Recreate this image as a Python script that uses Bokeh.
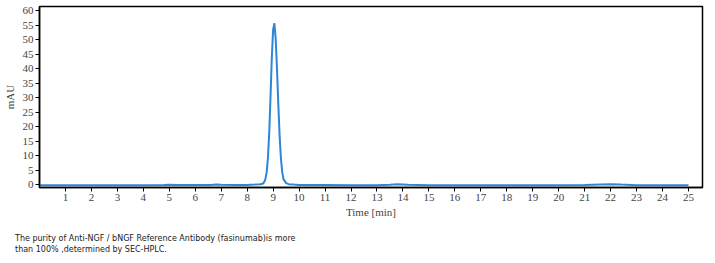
from bokeh.plotting import figure
from bokeh.layouts import column
from bokeh.models import Div, FixedTicker, Range1d
from bokeh.embed import file_html
from bokeh.resources import INLINE

# Chromatogram data
time_min = [0.0, 1.0, 2.0, 3.0, 4.0, 4.8, 5.0, 5.3, 6.0, 6.6, 6.8, 7.0, 7.5, 8.0, 8.3, 8.5,
            8.6, 8.65, 8.7, 8.75, 8.8, 8.85, 8.9, 8.95, 9.0, 9.05, 9.1, 9.15, 9.2, 9.25,
            9.3, 9.35, 9.4, 9.5, 9.6, 9.8, 10.0, 11.0, 12.0, 13.0, 13.5, 13.8, 14.2, 15.0,
            16.0, 17.0, 18.0, 19.0, 20.0, 21.0, 21.6, 22.0, 22.4, 23.0, 24.0, 25.0]
signal_mau = [-0.2, -0.2, -0.2, -0.2, -0.2, -0.15, -0.05, -0.1, -0.15, -0.1, 0.05, -0.05, -0.1, -0.1, 0.0, 0.1,
              0.3, 0.8, 1.8, 4.2, 9.2, 18.0, 30.5, 44.0, 53.5, 55.6, 50.0, 39.5, 27.5, 16.8,
              9.0, 4.3, 1.9, 0.5, 0.15, 0.0, -0.1, -0.15, -0.2, -0.2, -0.05, 0.1, -0.05, -0.2,
              -0.2, -0.2, -0.2, -0.2, -0.2, -0.15, 0.05, 0.15, 0.0, -0.2, -0.2, -0.2]

x_ticks = list(range(1, 26))
y_ticks = list(range(0, 61, 5))

p = figure(width=715, height=228, output_backend="svg", toolbar_location=None,
           x_range=Range1d(0, 25.54), y_range=Range1d(-1.0, 61.4),
           min_border_left=38, min_border_right=13, min_border_top=6, min_border_bottom=41)
p.line(time_min, signal_mau, line_color="#2f86d8", line_width=2)

p.xgrid.visible = False
p.ygrid.visible = False
p.outline_line_color = "black"
p.outline_line_width = 1.5
p.background_fill_color = "white"
p.border_fill_color = "white"

for ax in (p.xaxis[0], p.yaxis[0]):
    ax.axis_line_color = "black"
    ax.axis_line_width = 1.5
    ax.major_tick_line_color = "black"
    ax.major_tick_in = 0
    ax.major_tick_out = 4
    ax.minor_tick_line_color = None
    ax.major_label_text_font = "Liberation Serif"
    ax.major_label_text_font_size = "11px"
    ax.major_label_text_color = "#444444"
    ax.axis_label_text_font = "Liberation Serif"
    ax.axis_label_text_font_size = "11px"
    ax.axis_label_text_font_style = "normal"
    ax.axis_label_text_color = "#444444"

p.xaxis.ticker = FixedTicker(ticks=x_ticks)
p.yaxis.ticker = FixedTicker(ticks=y_ticks)
p.xaxis.axis_label = "Time [min]"
p.yaxis.axis_label = "mAU"
p.xaxis.major_label_standoff = 2
p.xaxis.axis_label_standoff = 2
p.yaxis.major_label_standoff = 2
p.yaxis.axis_label_standoff = 4

note = Div(text="The purity of Anti-NGF / bNGF Reference Antibody (fasinumab)is more<br>than 100% ,determined by SEC-HPLC.",
           width=400, height=32, margin=(5, 0, 0, 15),
           styles={"font-family": "DejaVu Sans", "font-size": "8px", "line-height": "11px", "color": "#222222"})

layout = column(p, note, spacing=0)
open("out.html", "w").write(file_html(layout, INLINE))
